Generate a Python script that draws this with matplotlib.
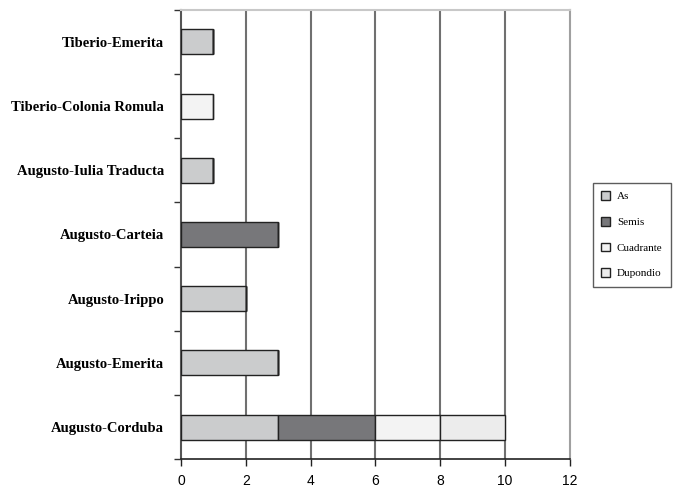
import matplotlib.pyplot as plt
import numpy as np

cecas = ['Augusto-Corduba', 'Augusto-Emerita', 'Augusto-Irippo', 'Augusto-Carteia',
         'Augusto-Iulia Traducta', 'Tiberio-Colonia Romula', 'Tiberio-Emerita']
as_ = [3, 3, 2, 0, 1, 0, 1]
semis = [3, 0, 0, 3, 0, 0, 0]
cuadrante = [2, 0, 0, 0, 0, 1, 0]
dupondio = [2, 0, 0, 0, 0, 0, 0]

series = [('As', as_, '#cbcccd'), ('Semis', semis, '#77777a'),
          ('Cuadrante', cuadrante, '#f3f3f3'), ('Dupondio', dupondio, '#ececec')]

fig = plt.figure(figsize=(6.75, 4.9), dpi=100)
ax = fig.add_axes([0.268, 0.063, 0.576, 0.917])

y = np.arange(len(cecas))
izq = np.zeros(len(cecas))
for nombre, valores, color in series:
    ax.barh(y, valores, left=izq, height=0.39, color=color, edgecolor='#222222',
            linewidth=1, label=nombre, zorder=3)
    izq += np.array(valores)

ax.set_xlim(0, 12)
ax.set_ylim(-0.5, len(cecas) - 0.5)
ax.set_xticks(range(0, 13, 2))
ax.set_xticklabels([str(v) for v in range(0, 13, 2)], family='Liberation Sans', fontsize=10)
ax.set_yticks(y)
ax.set_yticklabels(cecas, family='Liberation Serif', fontweight='bold', fontsize=10.5)
ax.tick_params(axis='y', which='major', length=0, pad=12)
ax.set_yticks(np.arange(-0.5, len(cecas), 1), minor=True)
ax.tick_params(axis='y', which='minor', length=5, width=1, color='#333333')
ax.tick_params(axis='x', length=5, width=1, color='#222222', pad=6)

for v in range(2, 12, 2):
    ax.axvline(v, color='#707070', linewidth=1.5, zorder=1)

ax.spines['left'].set_color('#555555')
ax.spines['left'].set_linewidth(1.5)
ax.spines['bottom'].set_color('#222222')
ax.spines['bottom'].set_linewidth(1.2)
ax.spines['top'].set_color('#c8c8c8')
ax.spines['top'].set_linewidth(1.5)
ax.spines['right'].set_color('#a0a0a0')
ax.spines['right'].set_linewidth(1.5)

leg = fig.legend(loc='upper left', bbox_to_anchor=(593 / 675, 1 - 183 / 490),
                 prop={'family': 'Liberation Serif', 'size': 8}, frameon=True,
                 fancybox=False, edgecolor='#333333', handlelength=0.8, handleheight=0.8,
                 handletextpad=0.6, labelspacing=1.4, borderpad=0.75, borderaxespad=0)
leg.get_frame().set_linewidth(1)

fig.savefig('out.png', dpi=100)
